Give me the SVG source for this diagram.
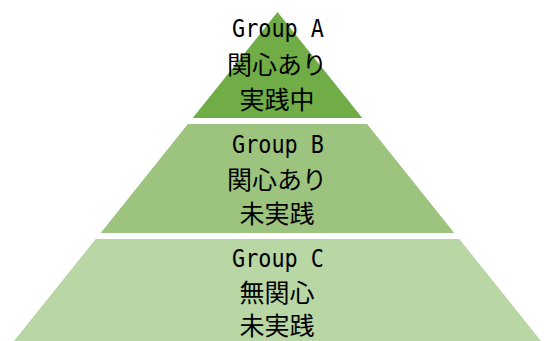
<svg xmlns="http://www.w3.org/2000/svg" width="544" height="341" viewBox="0 0 544 341">
<style>
.lat{font-family:"DejaVu Sans Mono","Liberation Mono",monospace;font-size:24px;fill:#000;text-anchor:middle}
.cjk{font-family:"Noto Sans CJK JP","Noto Sans CJK SC",sans-serif;font-size:25px;fill:#000;text-anchor:middle}
</style>
<rect width="544" height="341" fill="#fff"/>
<g id="tierA">
<polygon points="277.5,12 192.7,118 362.3,118" fill="#70AD47"/>
<text class="lat" x="278" y="37" textLength="92" lengthAdjust="spacingAndGlyphs">Group A</text>
<text class="cjk" x="277" y="74">関心あり</text>
<text class="cjk" x="277" y="109">実践中</text>
</g>
<g id="tierB">
<polygon points="187.9,124 367.1,124 454.3,233 100.7,233" fill="#9CC47F"/>
<text class="lat" x="278" y="153" textLength="92" lengthAdjust="spacingAndGlyphs">Group B</text>
<text class="cjk" x="277" y="189">関心あり</text>
<text class="cjk" x="277" y="223">未実践</text>
</g>
<g id="tierC">
<polygon points="95.7,239 459.3,239 545,346 10,346" fill="#B9D6A5"/>
<text class="lat" x="278" y="267" textLength="92" lengthAdjust="spacingAndGlyphs">Group C</text>
<text class="cjk" x="277" y="302">無関心</text>
<text class="cjk" x="277" y="335">未実践</text>
</g>
<g id="connectors"/>
</svg>
